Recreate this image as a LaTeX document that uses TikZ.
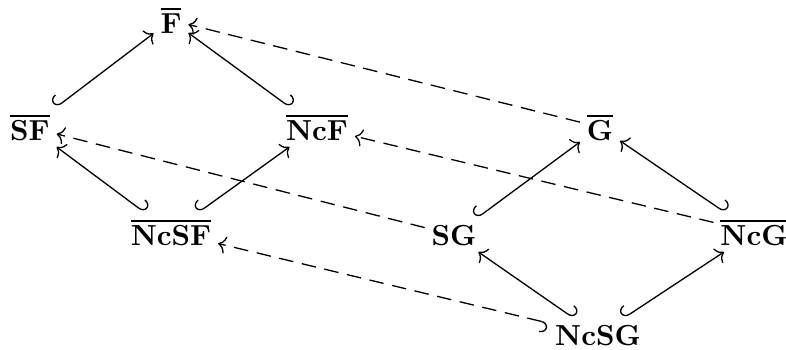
\documentclass[tikz,border=0pt]{standalone}
\usetikzlibrary{arrows.meta}
\tikzset{
  obj/.style={anchor=base, inner sep=2.2pt, text depth=0pt},
  hkr/.tip={Hooks[right,length=2.4pt,width=7.5pt]},
  hkl/.tip={Hooks[left,length=2.4pt,width=7.5pt]},
  tip/.tip={Computer Modern Rightarrow[width=6pt,length=2.6pt]},
  hr/.style={{hkr}-{tip}, line width=0.45pt},
  hl/.style={{hkl}-{tip}, line width=0.45pt},
  dd/.style={-{tip}, dash pattern=on 5pt off 3pt, line width=0.45pt},
  ddh/.style={{hkr}-{tip}, dash pattern=on 5pt off 3pt, line width=0.45pt},
}
\begin{document}
\begin{tikzpicture}[x=0.3448pt, y=-0.3448pt]
\useasboundingbox (0,0) rectangle (786,349);
\node[obj] (F)    at (171,33)  {$\overline{\mathbf{F}}$};
\node[obj] (SF)   at (30,140)  {$\overline{\mathbf{SF}}$};
\node[obj] (NcF)  at (317,140) {$\overline{\mathbf{NcF}}$};
\node[obj] (G)    at (600,140) {$\overline{\mathbf{G}}$};
\node[obj] (NcSF) at (171,245) {$\overline{\mathbf{NcSF}}$};
\node[obj] (SG)   at (454,245) {$\mathbf{SG}$};
\node[obj] (NcG)  at (754,245) {$\overline{\mathbf{NcG}}$};
\node[obj] (NcSG) at (598,345) {$\mathbf{NcSG}$};
\draw[hr] (SF) -- (F);
\draw[hl] (NcF) -- (F);
\draw[hl] (NcSF) -- (SF);
\draw[hr] (NcSF) -- (NcF);
\draw[hr] (SG) -- (G);
\draw[hl] (NcG) -- (G);
\draw[hl] (NcSG) -- (SG);
\draw[hr] (NcSG) -- (NcG);
\draw[dd] (G) -- (F);
\draw[dd] (NcG) -- (NcF);
\draw[dd] (SG) -- (SF);
\draw[ddh] (NcSG) -- (NcSF);
\end{tikzpicture}
\end{document}
